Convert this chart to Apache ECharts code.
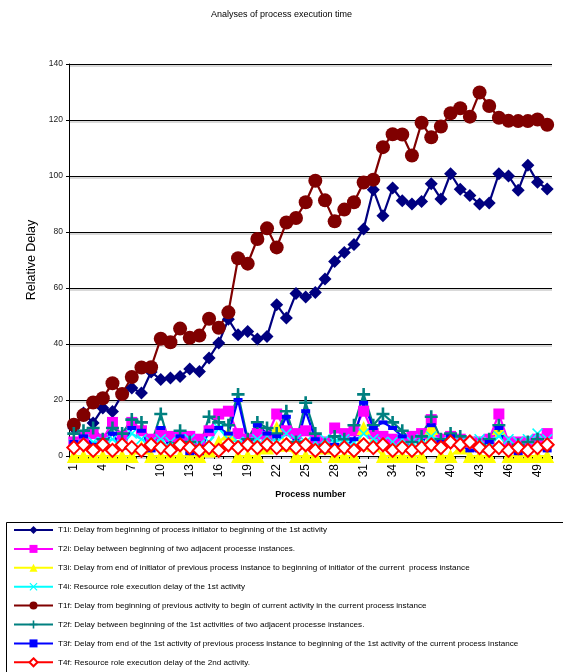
<!DOCTYPE html>
<html>
<head>
<meta charset="utf-8">
<script src="https://cdn.jsdelivr.net/npm/echarts@6/dist/echarts.min.js"></script>
<style>
  html, body { margin: 0; padding: 0; background: #fff; }
  #chart { width: 563px; height: 672px; }
</style>
</head>
<body>
<div id="chart"></div>
<script>
// Process numbers along the x axis
const processNumbers = Array.from({ length: 50 }, (_, i) => String(i + 1));

// Series names (legend text)
const seriesNames = [
  'T1i: Delay from beginning of process initiator to beginning of the 1st activity',
  'T2i: Delay between beginning of two adjacent processe instances.',
  'T3i: Delay from end of initiator of previous process instance to beginning of initiator of the current  process instance',
  'T4i: Resource role execution delay of the 1st activity',
  'T1f: Delay from beginning of previous activity to begin of current activity in the current process instance',
  'T2f: Delay between beginning of the 1st activities of two adjacent processe instances.',
  'T3f: Delay from end of the 1st activity of previous process instance to beginning of the 1st activity of the current process instance',
  'T4f: Resource role execution delay of the 2nd activity.'
];

// Measured relative delays per process
const t1i = [10, 15.4, 11.8, 17.1, 15.9, 22, 24.3, 22.5, 30, 27.3, 27.9, 28.4, 31.1, 30.2, 35, 40.4, 48.8, 43.3, 44.5, 41.8,
             42.7, 54, 49.3, 58, 56.8, 58.4, 63.2, 69.5, 72.7, 75.5, 81.1, 95.1, 85.8, 95.7, 91.2, 90, 90.9, 97.2, 91.8, 100.8,
             95.3, 93, 90, 90.4, 100.8, 100, 94.9, 103.8, 97.8, 95.4];
const t2i = [5, 7, 8, 6, 12, 7, 12, 9, 6, 8, 7, 7, 7, 6, 9, 15, 16, 8, 6, 8,
             7, 15, 9, 8, 9, 6, 5, 10, 8, 9, 16, 8, 7, 6, 5, 7, 8, 13, 6, 7,
             6, 5, 5, 6, 15, 5, 5, 5, 6, 8];
const t3i = [0, 0, 0, 0, 0, 0, 0, 3, 0, 0, 0, 0, 0, 0, 2, 5, 8, 0, 0, 0,
             3, 10, 4, 0, 0, 0, 3, 0, 0, 0, 10, 4, 0, 0, 0, 0, 0, 10, 0, 0,
             3, 0, 0, 0, 10, 0, 0, 0, 0, 0];
const t4i = [4, 6, 5, 5, 6, 4, 8, 6, 5, 6, 5, 6, 6, 4, 5, 10, 6, 5, 5, 6,
             7, 5, 8, 6, 5, 5, 6, 5, 6, 5, 8, 6, 5, 5, 6, 5, 6, 7, 5, 6,
             5, 5, 6, 5, 7, 6, 5, 6, 8, 6];
const t1f = [11.2, 14.6, 19.1, 20.6, 26, 22.1, 28.2, 31.6, 31.7, 41.9, 40.6, 45.5, 42.2, 43, 49, 45.8, 51.3, 70.6, 68.7, 77.5,
             81.3, 74.5, 83.4, 85, 90.6, 98.3, 91.3, 83.8, 88, 90.6, 97.7, 98.7, 110.3, 114.9, 114.8, 107.3, 119, 113.8, 117.7, 122.4,
             124.2, 121.2, 129.8, 125, 120.8, 119.7, 119.6, 119.6, 120.2, 118.3];
const t2f = [8, 9, 10, 6, 10, 8, 13, 12, 4, 15, 3, 9, 5, 3, 14, 12, 11, 22, 6, 12,
             10, 8, 16, 5, 19, 8, 4, 7, 6, 11, 22, 11, 15, 12, 9, 5, 7, 14, 6, 8,
             7, 5, 4, 6, 11, 3, 4, 5, 6, 4];
const t3f = [5, 7, 4, 4, 8, 3, 10, 9, 2, 10, 2, 7, 1, 1, 9, 10, 8, 20, 5, 11,
             8, 7, 14, 3, 16, 6, 2, 4, 3, 6, 19, 10, 12, 10, 7, 2, 4, 11, 5, 7,
             4, 2, 2, 5, 10, 2, 1, 2, 3, 2];
const t4f = [3, 4, 2, 4, 2, 4, 3, 2, 4, 3, 2, 4, 3, 2, 3, 2, 4, 3, 4, 3,
             4, 3, 4, 3, 4, 2, 3, 2, 3, 2, 4, 3, 4, 2, 3, 2, 3, 4, 3, 5,
             4, 5, 3, 2, 3, 2, 3, 2, 3, 4];

// Y axis scale
const yMin = 0, yMax = 140, yStep = 20;

const plusPath = 'path://M4,0 L6,0 L6,4 L10,4 L10,6 L6,6 L6,10 L4,10 L4,6 L0,6 L0,4 L4,4 Z';
const crossPath = 'path://M0,1 L1,0 L5,4 L9,0 L10,1 L6,5 L10,9 L9,10 L5,6 L1,10 L0,9 L4,5 Z';

function lineSeries(name, data, color, symbol, size, extra) {
  return Object.assign({
    name: name,
    type: 'line',
    data: data,
    symbol: symbol,
    symbolSize: size,
    showAllSymbol: true,
    clip: false,
    animation: false,
    lineStyle: { color: color, width: 2.2 },
    itemStyle: { color: color, borderWidth: 0 },
    emphasis: { disabled: true }
  }, extra || {});
}

const chart = echarts.init(document.getElementById('chart'), null, { renderer: 'canvas' });

chart.setOption({
  backgroundColor: '#ffffff',
  animation: false,
  textStyle: { fontFamily: 'Liberation Sans, Arial, sans-serif' },
  title: {
    text: 'Analyses of process execution time',
    left: 'center',
    top: 5,
    textStyle: { fontSize: 9, fontWeight: 'normal', color: '#000' }
  },
  grid: { left: 69, right: 11, top: 64, bottom: 216, containLabel: false },
  xAxis: {
    type: 'category',
    data: processNumbers,
    boundaryGap: true,
    name: 'Process number',
    nameLocation: 'middle',
    nameGap: 34,
    nameTextStyle: { fontSize: 9, fontWeight: 'bold', color: '#000' },
    axisLine: { lineStyle: { color: '#000', width: 1 } },
    axisTick: { show: true, interval: 0, length: 3, lineStyle: { color: '#000' } },
    axisLabel: { interval: 2, rotate: 90, fontSize: 12, color: '#000', margin: 8 },
    splitLine: { show: false }
  },
  yAxis: {
    type: 'value',
    min: yMin,
    max: yMax,
    interval: yStep,
    name: 'Relative Delay',
    nameLocation: 'middle',
    nameGap: 26,
    nameTextStyle: { fontSize: 12.5, color: '#000' },
    axisLine: { show: true, lineStyle: { color: '#000', width: 1 } },
    axisTick: { show: true, length: 3, lineStyle: { color: '#000' } },
    axisLabel: { fontSize: 8.5, color: '#222', margin: 6 },
    splitLine: {
      show: true,
      lineStyle: { color: '#000', width: 1, shadowColor: 'rgba(0,0,0,0.3)', shadowOffsetY: 1.5, shadowBlur: 0 }
    }
  },
  legend: {
    orient: 'vertical',
    left: 13,
    top: 525,
    height: 150,
    padding: 0,
    itemWidth: 39,
    itemHeight: 10,
    itemGap: 8.9,
    selectedMode: false,
    textStyle: { fontSize: 8.1, color: '#000', lineHeight: 10 },
    data: seriesNames
  },
  graphic: [
    {
      type: 'rect',
      left: 4,
      top: 520,
      shape: { width: 600, height: 200 },
      style: { fill: 'none', stroke: '#000', lineWidth: 1 },
      silent: true,
      z: -1
    }
  ],
  series: [
    lineSeries(seriesNames[0], t1i, '#000080', 'diamond', 13),
    lineSeries(seriesNames[1], t2i, '#FF00FF', 'rect', 11),
    lineSeries(seriesNames[2], t3i, '#FFFF00', 'triangle', 14),
    lineSeries(seriesNames[3], t4i, '#00FFFF', crossPath, 11),
    lineSeries(seriesNames[4], t1f, '#800000', 'circle', 14),
    lineSeries(seriesNames[5], t2f, '#008080', plusPath, 13),
    lineSeries(seriesNames[6], t3f, '#0000FF', 'rect', [9, 4]),
    lineSeries(seriesNames[7], t4f, '#FF0000', 'emptyDiamond', 13, {
      itemStyle: { color: '#FF0000', borderColor: '#FF0000', borderWidth: 2.2 }
    })
  ]
});
</script>
</body>
</html>
